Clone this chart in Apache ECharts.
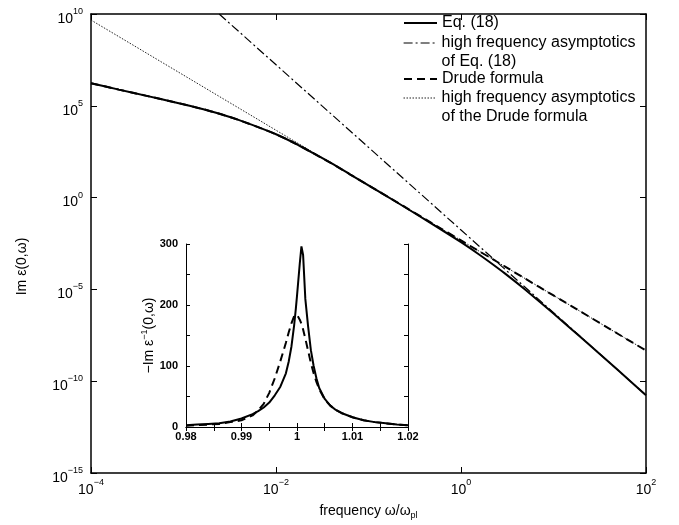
<!DOCTYPE html>
<html><head><meta charset="utf-8">
<script src="https://cdn.jsdelivr.net/npm/echarts@6/dist/echarts.min.js"></script>
<style>html,body{margin:0;padding:0;background:#fff}#c{width:679px;height:525px}</style>
</head><body><div id="c"></div>
<script>
// ---- main panel data (frequency ω/ωpl, Im ε(0,ω)) ----
const freq = [1e-4, 2e-4, 4e-4, 8e-4, 1.6e-3, 2.5e-3, 4e-3, 6.3e-3, 1e-2, 1.6e-2, 2.5e-2, 4e-2, 6.3e-2, 0.1, 0.2, 0.5, 1, 1.5, 2, 3, 5, 10, 20, 50, 100];
const eq18 = [1.70e6, 7.59e5, 3.47e5, 1.58e5, 6.76e4, 3.55e4, 1.66e4, 7.08e3, 2.82e3, 912, 269, 72.4, 18.6, 4.68, 0.575, 0.0339, 3.72e-3, 9.33e-4, 3.31e-4, 7.24e-5, 9.33e-6, 4.90e-7, 2.29e-8, 3.89e-10, 1.74e-11];
const drude = [1.70e6, 7.59e5, 3.47e5, 1.58e5, 6.76e4, 3.55e4, 1.66e4, 7.08e3, 2.82e3, 912, 269, 72.4, 18.6, 4.68, 0.589, 0.0372, 4.68e-3, 1.38e-3, 5.89e-4, 1.74e-4, 3.72e-5, 4.68e-6, 5.89e-7, 3.72e-8, 4.68e-9];
const asymEqFreq = [2.43e-3, 0.1, 1, 100];
const asymEq = [1e10, 546, 0.01726, 1.73e-11];
const asymDrudeFreq = [1e-4, 1e-2, 1, 100];
const asymDrude = [4.68e9, 4.68e3, 4.68e-3, 4.68e-9];
// ---- inset data (ω/ωpl, -Im ε^-1(0,ω)) ----
const insetFreq = [0.980,0.982,0.984,0.986,0.988,0.990,0.992,0.993,0.994,0.995,0.996,0.997,0.998,0.9985,0.999,0.9995,0.9998,1.000,1.0005,1.0008,1.0011,1.0015,1.002,1.0025,1.003,1.0035,1.004,1.005,1.006,1.007,1.008,1.010,1.012,1.014,1.016,1.018,1.020];
const insetEq18 = [3,4,5,6,9,14,21,26,32,40,52,66,88,107,132,168,195,215,268,296,282,210,165,126,100,80,64,46,35,28,23,16,11,8,6,4,3];
const insetDrude = [2,3,4,5,8,11,19,27,38,56,80,108,138,155,170,182,185,184,176,169,160,145,125,105,88,74,62,45,35,28,23,16,11,8,6,4,3];
// ---- names / ticks ----
const names = ['Eq. (18)', 'high frequency asymptotics\nof Eq. (18)', 'Drude formula', 'high frequency asymptotics\nof the Drude formula'];
const xTickExps = [-4, -2, 0, 2];
const yTickExps = [-15, -10, -5, 0, 5, 10];

const FONT = '"Liberation Sans", Arial, sans-serif';
const pair = (xs, ys) => xs.map((x, i) => [x, ys[i]]);
const supFmt = v => { const e = Math.round(Math.log10(v)); return '{b|10}{s|' + (e < 0 ? '\u2212' + (-e) : e) + '}'; };
const supRich = {
  b: {fontSize: 14, lineHeight: 14, padding: [5, 0, 0, 0], fontFamily: FONT, color: '#000', verticalAlign: 'top'},
  s: {fontSize: 9, lineHeight: 10, fontFamily: FONT, color: '#000', verticalAlign: 'top'}
};
const axLine = {show: true, lineStyle: {color: '#000', width: 1.5}};
const tick = len => ({show: true, inside: true, length: len, lineStyle: {color: '#000', width: 1}});

const logX = (pos, show) => ({type: 'log', logBase: 10, gridIndex: 0, position: pos, min: Math.pow(10, xTickExps[0]), max: Math.pow(10, xTickExps[xTickExps.length-1]), interval: 2,
  axisLine: axLine, axisTick: tick(6), splitLine: {show: false}, minorTick: {show: false},
  axisLabel: {show: show, margin: 5, formatter: supFmt, rich: supRich}});
const logY = (pos, show) => ({type: 'log', logBase: 10, gridIndex: 0, position: pos, min: Math.pow(10, yTickExps[0]), max: Math.pow(10, yTickExps[yTickExps.length-1]), interval: 5,
  axisLine: axLine, axisTick: tick(6), splitLine: {show: false},
  axisLabel: {show: show, margin: 8, formatter: supFmt, rich: supRich}});
const insX = (pos, show) => ({type: 'value', gridIndex: 1, position: pos, min: 0.98, max: 1.02, interval: 0.01,
  axisLine: {show: true, lineStyle: {color: '#000', width: 1}}, axisTick: tick(4), splitLine: {show: false},
  minorTick: {show: true, splitNumber: 2, length: 4, lineStyle: {color: '#000', width: 1}},
  axisLabel: {show: show, margin: 4, fontSize: 11, fontWeight: 'bold', fontFamily: FONT, color: '#000'}});
const insY = (pos, show) => ({type: 'value', gridIndex: 1, position: pos, min: 0, max: 300, interval: 100,
  axisLine: {show: true, lineStyle: {color: '#000', width: 1}}, axisTick: tick(4), splitLine: {show: false},
  minorTick: {show: true, splitNumber: 2, length: 4, lineStyle: {color: '#000', width: 1}},
  axisLabel: {show: show, margin: 8, fontSize: 11, fontWeight: 'bold', fontFamily: FONT, color: '#000'}});

const xMain = logX('bottom', true);
xMain.name = '{n|frequency \u03c9/\u03c9}{sub|pl}';
xMain.nameLocation = 'middle'; xMain.nameGap = 30;
xMain.nameTextStyle = {rich: {n: {fontSize: 14, fontFamily: FONT, color: '#000'}, sub: {fontSize: 9, fontFamily: FONT, color: '#000', padding: [8, 0, 0, 0]}}};
const yMain = logY('left', true);
yMain.name = 'Im \u03b5(0,\u03c9)'; yMain.nameLocation = 'middle'; yMain.nameGap = 62;
yMain.nameTextStyle = {fontSize: 14, fontFamily: FONT, color: '#000', padding: [0, 46, 0, 0]};
const yIns = insY('left', true);
yIns.name = '{n|\u2212Im \u03b5}{s|\u22121}{n|(0,\u03c9)}'; yIns.nameLocation = 'middle'; yIns.nameGap = 28;
yIns.nameTextStyle = {rich: {n: {fontSize: 14, fontFamily: FONT, color: '#000'}, s: {fontSize: 9, fontFamily: FONT, color: '#000', padding: [0, 0, 8, 0]}}};

const lg = (name, top, width, twoLine) => ({
  data: [name], orient: 'vertical', left: 403, top: top, padding: 0, itemWidth: 33, itemHeight: 14,
  selectedMode: false, lineStyle: {width: width}, itemStyle: {opacity: 0},
  formatter: twoLine ? '\n{name}' : '{name}',
  textStyle: {fontSize: 16, fontFamily: FONT, color: '#000', lineHeight: 18.5}
});

const option = {
  animation: false,
  backgroundColor: '#fff',
  grid: [{left: 91, top: 14, width: 555, height: 460}, {left: 186, top: 244, width: 222, height: 183}],
  xAxis: [xMain, logX('top', false), insX('bottom', true), insX('top', false)],
  yAxis: [yMain, logY('right', false), yIns, insY('right', false)],
  legend: [lg(names[0], 13.75, 2, false), lg(names[1], 15.25, 1.2, true), lg(names[2], 69.75, 2, false), lg(names[3], 70.25, 1, true)],
  series: [
    {name: names[3], type: 'line', xAxisIndex: 0, yAxisIndex: 0, data: pair(asymDrudeFreq, asymDrude), symbol: 'none', z: 2,
      lineStyle: {color: '#222', width: 1, type: [1.5, 1.5]}, itemStyle: {color: '#222'}},
    {name: names[2], type: 'line', xAxisIndex: 0, yAxisIndex: 0, data: pair(freq, drude), symbol: 'none', z: 3, smooth: 0.2,
      lineStyle: {color: '#000', width: 2, type: [8, 5]}, itemStyle: {color: '#000'}},
    {name: names[1], type: 'line', xAxisIndex: 0, yAxisIndex: 0, data: pair(asymEqFreq, asymEq), symbol: 'none', z: 3,
      lineStyle: {color: '#000', width: 1.2, type: [9, 3, 2, 3]}, itemStyle: {color: '#000'}},
    {name: names[0], type: 'line', xAxisIndex: 0, yAxisIndex: 0, data: pair(freq, eq18), symbol: 'none', z: 4, smooth: 0.2,
      lineStyle: {color: '#000', width: 2}, itemStyle: {color: '#000'}},
    {name: names[0], type: 'line', xAxisIndex: 2, yAxisIndex: 2, data: pair(insetFreq, insetEq18), symbol: 'none', z: 4,
      lineStyle: {color: '#000', width: 2}, itemStyle: {color: '#000'}},
    {name: names[2], type: 'line', xAxisIndex: 2, yAxisIndex: 2, data: pair(insetFreq, insetDrude), symbol: 'none', z: 3,
      lineStyle: {color: '#000', width: 2, type: [8, 5]}, itemStyle: {color: '#000'}}
  ]
};
const chart = echarts.init(document.getElementById('c'), null, {renderer: 'canvas'});
chart.setOption(option);
</script></body></html>
